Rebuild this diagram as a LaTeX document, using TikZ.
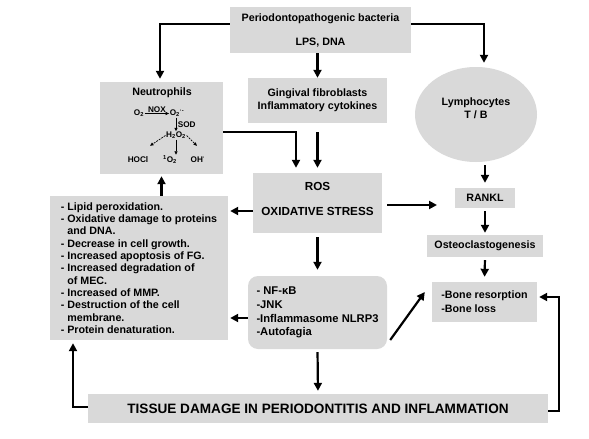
\documentclass[tikz,border=0pt]{standalone}
\usepackage{fontspec}
\setmainfont{Liberation Sans}
\usetikzlibrary{arrows.meta,calc,shapes.geometric}
\definecolor{boxgray}{RGB}{217,217,217}
\begin{document}
\begin{tikzpicture}[x=1pt,y=-1pt,
  box/.style={fill=boxgray, draw=none, inner sep=0pt, align=center,
    font=\bfseries\fontsize{10.7}{13}\selectfont},
  lbox/.style={box, align=left},
  txt/.style={inner sep=0pt, align=center, font=\bfseries\fontsize{10.7}{13}\selectfont},
  arr/.style={line width=2.2pt, -{Triangle[length=8pt,width=8pt]}},
  small/.style={font=\bfseries\fontsize{8.2}{9}\selectfont, inner sep=0.5pt},
  sarr/.style={line width=0.7pt, -{Triangle[length=3.5pt,width=3pt]}},
]
\useasboundingbox[fill=white] (0,0) rectangle (589,439);

% ---- boxes
\node[box, minimum width=181, minimum height=46] (top) at (320.5,30)
  {Periodontopathogenic bacteria\\[11pt]LPS, DNA};
\node[box, minimum width=139, minimum height=45] (ging) at (317.5,100.5)
  {Gingival fibroblasts\\Inflammatory cytokines};
\node[box, minimum width=129, minimum height=60] (ros) at (317.5,203) {};
\node[txt, font=\bfseries\fontsize{11.7}{13}\selectfont] (rost) at (317.5,186) {ROS};
\node[txt, font=\bfseries\fontsize{11.7}{13}\selectfont] (oxs) at (317.5,211) {OXIDATIVE STRESS};
\node[ellipse, fill=boxgray, minimum width=122, minimum height=95, inner sep=0pt] (lymph) at (476,114.5) {};
\node[txt] (lymt) at (476,108.5) {Lymphocytes\\T / B};
\node[box, minimum width=60, minimum height=20] (rankl) at (485,198) {RANKL};
\node[box, minimum width=116, minimum height=22] (osteo) at (485,246) {Osteoclastogenesis};
\node[lbox, minimum width=105, minimum height=40, font=\bfseries\fontsize{10.7}{14}\selectfont] (bone) at (484.5,302)
  {-Bone resorption\\-Bone loss};
\node[lbox, minimum width=178, minimum height=144, font=\bfseries\fontsize{10.7}{12.3}\selectfont] (list) at (139,268)
  {- Lipid peroxidation.\\
   - Oxidative damage to proteins\\
   \hphantom{- }and DNA.\\
   - Decrease in cell growth.\\
   - Increased apoptosis of FG.\\
   - Increased degradation of\\
   \hphantom{- }of MEC.\\
   - Increased of MMP.\\
   - Destruction of the cell\\
   \hphantom{- }membrane.\\
   - Protein denaturation.};
\node[lbox, rounded corners=10pt, minimum width=139, minimum height=73, font=\bfseries\fontsize{11.2}{13.8}\selectfont] (nf) at (317.5,312.5)
  {- NF-κB\\-JNK\\-Inflammasome NLRP3\\-Autofagia};
\node[box, minimum width=460, minimum height=29, font=\bfseries\fontsize{13.6}{15}\selectfont] (tissue) at (318,408.5)
  {TISSUE DAMAGE IN PERIODONTITIS AND INFLAMMATION};

% ---- neutrophils box
\node[box, minimum width=123, minimum height=92] (nbox) at (161.5,128) {};
\node[txt] (neut) at (162,93) {Neutrophils};
\node[small] (o2) at (139,113.5) {O\textsubscript{2}};
\node[small] (o2r) at (177,113.5) {O\textsubscript{2}\textsuperscript{·-}};
\node[small] (h2o2) at (176,135.5) {H\textsubscript{2}O\textsubscript{2}};
\node[small] (hocl) at (138,159.5) {HOCl};
\node[small] (sing) at (170,159.5) {\textsuperscript{1}O\textsubscript{2}};
\node[small] (oh) at (198,159.5) {OH\textsuperscript{·}};
\draw[sarr] (o2.east) -- node[small, above=0.3pt] (nox) {NOX} (o2r.west);
\draw[sarr] (o2r.south -| h2o2.north) -- node[small, right=1pt] (sod) {SOD} (h2o2.north);
\draw[sarr, dash pattern=on 2pt off 1pt] (h2o2.west) -- ($(hocl.north)+(12,-10)$);
\draw[sarr, dash pattern=on 2pt off 1pt] (h2o2.east) -- ($(oh.north)+(-1,-10)$);
\draw[sarr] (h2o2.south) -- (h2o2.south |- sing.north);

% ---- connectors
\coordinate (tl) at (160,24);
\coordinate (tr) at (484,24);
\draw[arr, shorten >=3pt] (top.west |- tl) -- (tl) -- (tl |- nbox.north);
\draw[arr, shorten >=4pt] (top.east |- tr) -- (tr) -- (tr |- lymph.north);
\draw[arr] (top.south -| ging.north) -- (ging.north);
\draw[arr, shorten <=9pt, shorten >=5pt] (ging.south) -- (ros.north);
\coordinate (nr) at (296,132);
\draw[arr, shorten >=5pt] (nbox.east |- nr) -- (nr) -- (nr |- ros.north);
\coordinate (rk) at (437,205);
\draw[arr, shorten <=5pt] (ros.east |- rk) -- (rk);
\draw[arr, shorten <=3pt, shorten >=5pt] (lymph.south -| rankl.north) -- (rankl.north);
\draw[arr, shorten <=3pt, shorten >=2pt] (rankl.south) -- (osteo.north);
\draw[arr, shorten <=3pt, shorten >=5pt] (osteo.south) -- (bone.north);
\coordinate (rl) at (240,211);
\draw[arr, shorten >=2pt] (ros.west |- rl) -- (list.east |- rl);
\draw[arr, shorten <=4pt, shorten >=6pt] (ros.south) -- (nf.north);
\coordinate (nl) at (240,318);
\draw[arr, shorten >=2pt] (nf.west |- nl) -- (list.east |- nl);
\draw[arr] ($(nf.east)+(3,27.5)$) -- ($(bone.west)+(-7,-10)$);
\draw[arr, shorten <=3pt, shorten >=3pt] (nf.south) -- (tissue.north);
\coordinate (bl) at (73,407);
\draw[arr, shorten >=3pt] (tissue.west |- bl) -- (bl) -- (bl |- list.south);
\coordinate (br) at (559,411);
\coordinate (bt) at (559,297);
\draw[arr, shorten >=2pt] (tissue.east |- br) -- (br) -- (bt) -- (bone.east |- bt);
\draw[arr, shorten >=2pt] (list.north -| nbox.south) -- (nbox.south);
\end{tikzpicture}
\end{document}
